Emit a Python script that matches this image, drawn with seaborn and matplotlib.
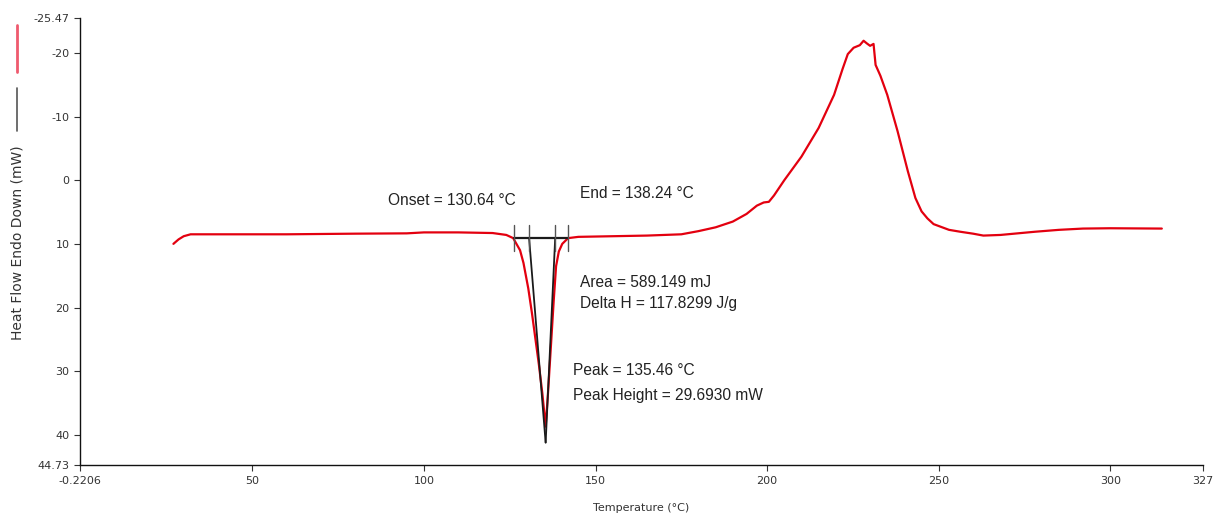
import numpy as np
import pandas as pd
import matplotlib
matplotlib.use("Agg")
import matplotlib.pyplot as plt
from matplotlib.lines import Line2D
import seaborn as sns

# ---- data ----
temp = [27.0, 28.5, 30.0, 32.0, 40, 60, 80, 95, 100, 110, 120, 124, 126, 128, 129,
        130.4, 131.5, 132.5, 133.5, 134.5, 135.46, 136.2, 137.0, 137.8, 138.5, 139.3,
        140.3, 142, 145, 155, 165, 175, 180, 185, 190, 194, 197, 199, 200.5, 202, 205,
        210, 215, 219.5, 222, 223.5, 225.2, 227, 228.1, 229, 230, 231, 231.6, 233, 235,
        238, 241, 243.2, 245, 246.7, 248.5, 250.5, 253, 256.3, 260, 263, 268, 272, 278,
        285, 292, 300, 315]
heat_flow = [10.0, 9.3, 8.8, 8.5, 8.5, 8.5, 8.4, 8.35, 8.2, 8.2, 8.3, 8.6, 9.1, 11.0, 13.0,
             17, 21, 25, 29, 33.5, 38.7, 33, 26, 19, 13.5, 11.2,
             10.0, 9.1, 8.9, 8.8, 8.7, 8.5, 8.0, 7.4, 6.5, 5.3, 4.0, 3.5, 3.4, 2.4, 0,
             -3.7, -8.2, -13.4, -17.5, -19.8, -20.8, -21.2, -21.9, -21.5, -21.1, -21.4, -18.1, -16.4, -13.4,
             -7.7, -1.4, 2.8, 4.9, 6.0, 6.9, 7.3, 7.8, 8.1, 8.4, 8.7, 8.6, 8.4, 8.1,
             7.8, 7.6, 7.55, 7.6]

onset = 130.64
end_t = 138.24
peak_t = 135.46
baseline_y = 9.1
tangent_bottom_y = 41.2
baseline_span = [126.1, 142.0]
marker_ticks = [126.1, 130.5, 138.1, 142.0]

x_ticks = [-0.2206, 50, 100, 150, 200, 250, 300, 327]
x_ticklabels = ["-0.2206", "50", "100", "150", "200", "250", "300", "327"]
y_ticks = [-25.47, -20, -10, 0, 10, 20, 30, 40, 44.73]
y_ticklabels = ["-25.47", "-20", "-10", "0", "10", "20", "30", "40", "44.73"]

annotations = [
    (89.6, 3.2, "Onset = 130.64 °C"),
    (145.6, 2.1, "End = 138.24 °C"),
    (145.6, 16.0, "Area = 589.149 mJ"),
    (145.6, 19.3, "Delta H = 117.8299 J/g"),
    (143.3, 29.9, "Peak = 135.46 °C"),
    (143.3, 33.8, "Peak Height = 29.6930 mW"),
]

# ---- plotting ----
sns.set_theme(style="white")
plt.rcParams['font.family'] = ['Liberation Sans', 'DejaVu Sans']

fig = plt.figure(figsize=(12.16, 5.19), dpi=100)
ax = fig.add_axes([80 / 1216, 1 - 465 / 519, (1203 - 80) / 1216, (465 - 18) / 519])

df = pd.DataFrame({"Temperature": temp, "HeatFlow": heat_flow})
sns.lineplot(data=df, x="Temperature", y="HeatFlow", sort=False, ax=ax,
             color="#e3000f", linewidth=1.6, estimator=None)

# analysis construction lines (black)
dark = "#1a1a1a"
sns.lineplot(x=baseline_span, y=[baseline_y, baseline_y], ax=ax, color=dark, linewidth=1.6)
sns.lineplot(x=[onset, peak_t], y=[baseline_y, tangent_bottom_y], ax=ax, color=dark, linewidth=1.3, sort=False)
sns.lineplot(x=[end_t, peak_t], y=[baseline_y, tangent_bottom_y], ax=ax, color=dark, linewidth=1.3, sort=False)
for xt in marker_ticks:
    ax.plot([xt, xt], [7.0, 11.2], color="#555555", linewidth=1.0)

for xa, ya, txt in annotations:
    ax.text(xa, ya, txt, fontsize=11.2, color="#222222", va="center", ha="left")

ax.set_xlim(-0.2206, 327)
ax.set_ylim(44.73, -25.47)
ax.set_xticks(x_ticks)
ax.set_xticklabels(x_ticklabels)
ax.set_yticks(y_ticks)
ax.set_yticklabels(y_ticklabels)
ax.tick_params(axis="both", labelsize=8, colors="#333333", length=4, width=0.8,
               direction="out", left=True, bottom=True)
for lab in ax.get_xticklabels() + ax.get_yticklabels():
    lab.set_family(["DejaVu Sans"])
ax.tick_params(axis="x", pad=4)
ax.set_xlabel("Temperature (°C)", fontsize=8, color="#333333", labelpad=12,
              family=["DejaVu Sans"])
ax.set_ylabel("")
for s in ["top", "right"]:
    ax.spines[s].set_visible(False)
for s in ["left", "bottom"]:
    ax.spines[s].set_color("#111111")
    ax.spines[s].set_linewidth(1.0)
ax.grid(False)

# y label with legend swatches
fig.text(18 / 1216, 1 - 243 / 519, "Heat Flow Endo Down (mW)", rotation=90,
         fontsize=10, color="#333333", ha="center", va="center", family=["DejaVu Sans"])
fig.add_artist(Line2D([17 / 1216, 17 / 1216], [1 - 25 / 519, 1 - 72 / 519],
                      color="#ef5a6e", linewidth=2, transform=fig.transFigure))
fig.add_artist(Line2D([17 / 1216, 17 / 1216], [1 - 88 / 519, 1 - 131 / 519],
                      color="#555555", linewidth=1.2, transform=fig.transFigure))

fig.savefig("out.png", dpi=100)
